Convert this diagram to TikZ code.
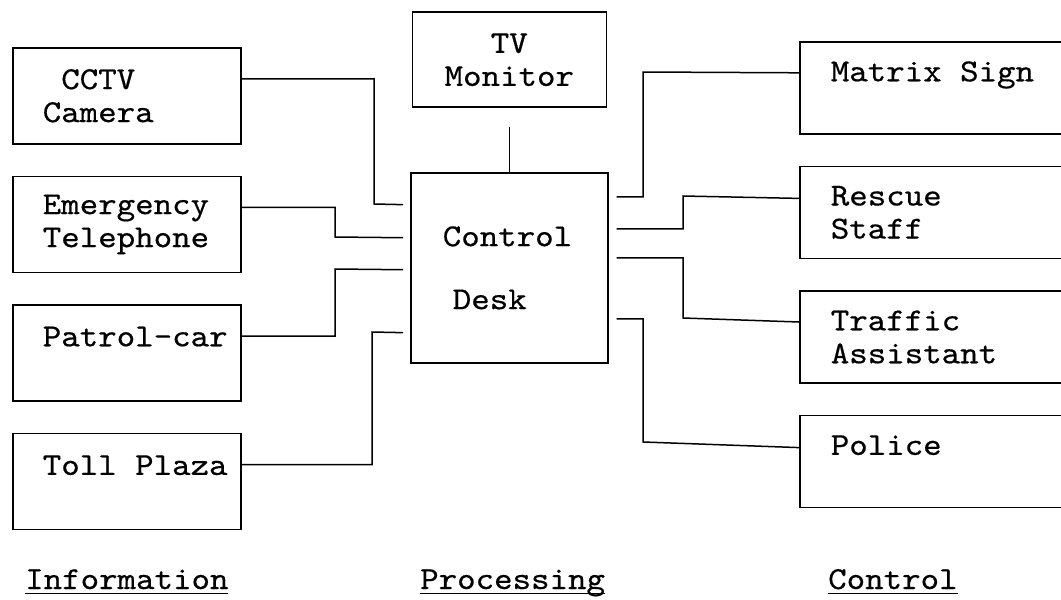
\documentclass[tikz,border=0pt]{standalone}
\usepackage{fontspec}
\setmonofont[FakeStretch=1.1, FakeBold=0.5]{lmmono10-regular.otf}
\usetikzlibrary{positioning}
\newcommand{\tw}{\fontsize{32}{33}\selectfont\ttfamily}
\newcommand{\blank}{\hphantom{x}}
\newcommand{\heading}[1]{\setbox0\hbox{#1}\rlap{\rule[-5pt]{\wd0}{1.5pt}}\box0}

\begin{document}
\begin{tikzpicture}[
    x=1pt, y=-1pt,
    node distance=31pt,
    box/.style={rectangle, draw=black, line width=1.6pt,
                inner xsep=30pt, inner ysep=0pt, text width=168pt,
                minimum height=96pt, align=left, font=\tw},
    sink/.style={box, inner xsep=31pt, text width=300pt, minimum height=92pt},
    wire/.style={line width=1.5pt},
    caption/.style={anchor=base west, inner sep=0pt, font=\tw}
]
  \useasboundingbox (0,0) rectangle (1061,600);
  \clip (0,0) rectangle (1061,600);
  \fill[white] (0,0) rectangle (1061,600);

  \node[box, anchor=north west] (cctv) at (12,47) {\blank CCTV\\Camera};
  \node[box, below=of cctv]     (phone)  {Emergency\\Telephone};
  \node[box, below=of phone]    (patrol) {\mbox{Patrol-car}\\~};
  \node[box, below=of patrol]   (toll)   {\mbox{Toll\blank Plaza}\\~};

  \node[box, anchor=north west, inner xsep=32pt, text width=133pt,
        minimum height=190pt] (desk) at (410,172) {Control\\[30pt]\hspace*{10pt}Desk};
  \node[box, above=64pt of desk, inner xsep=0pt, text width=194pt,
        minimum height=95pt, align=center] (tv) {TV\\Monitor};

  \node[sink, anchor=north west] (matrix) at (799,41) {Matrix\blank Sign\\~};
  \node[sink, below=of matrix]   (rescue)  {Rescue\\Staff};
  \node[sink, below=of rescue]   (traffic) {Traffic\\Assistant};
  \node[sink, below=of traffic]  (police)  {Police\\~};

  \node[caption] (info) at (25,589)  {\heading{Information}};
  \node[caption] (proc) at (420,589) {\heading{Processing}};
  \node[caption] (ctrl) at (828,589) {\heading{Control}};

  \draw[wire, shorten >=7pt] ([yshift=17pt]cctv.east)   -| (374,204) -- ([yshift=63pt]desk.west);
  \draw[wire, shorten >=7pt] ([yshift=17pt]phone.east)  -| (335,237) -- ([yshift=30pt]desk.west);
  \draw[wire, shorten >=7pt] ([yshift=17pt]patrol.east) -| (335,269) -- ([yshift=-2pt]desk.west);
  \draw[wire, shorten >=7pt] ([yshift=17pt]toll.east)   -| (372,332) -- ([yshift=-65pt]desk.west);

  \draw[wire, shorten <=19pt] (tv) -- (desk);

  \draw[wire, shorten <=8pt] ([yshift=71pt]desk.east)  -| (643,72)  -- ([yshift=15pt]matrix.west);
  \draw[wire, shorten <=8pt] ([yshift=39pt]desk.east)  -| (683,196) -- ([yshift=14pt]rescue.west);
  \draw[wire, shorten <=8pt] ([yshift=10pt]desk.east)  -| (683,318) -- ([yshift=15pt]traffic.west);
  \draw[wire, shorten <=8pt] ([yshift=-51pt]desk.east) -| (643,442) -- ([yshift=14pt]police.west);
\end{tikzpicture}
\end{document}
